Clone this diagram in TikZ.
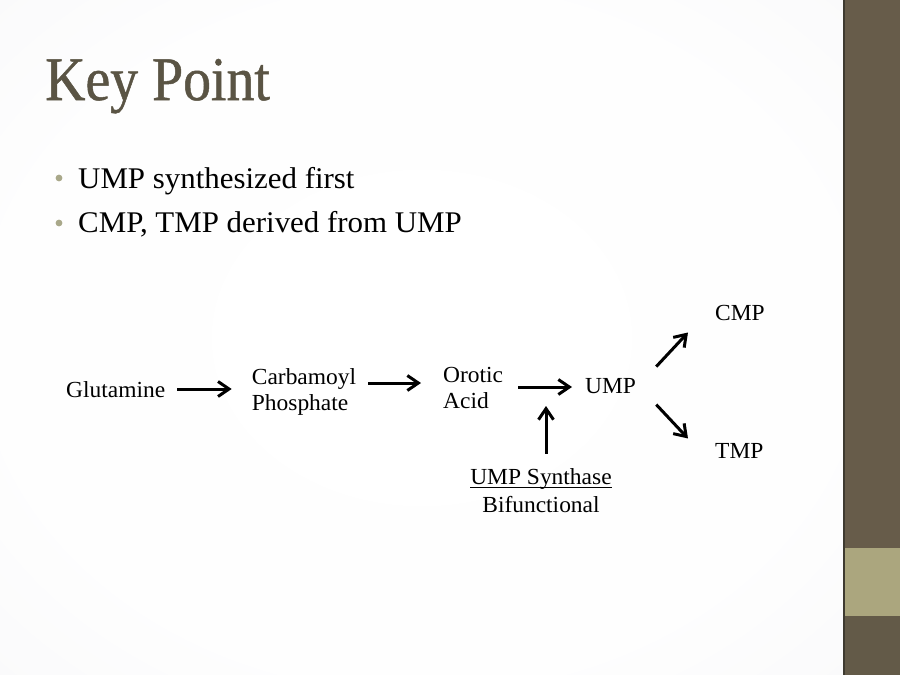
\documentclass[tikz,border=0pt]{standalone}
\usepackage{fontspec}
\setmainfont{Liberation Serif}
\newfontfamily\titlefont[FakeStretch=0.9,FakeBold=0.8]{Liberation Serif}
\newfontfamily\bodyfont[FakeStretch=1.03]{Liberation Serif}
\newfontfamily\diagfont[FakeStretch=1.02]{Liberation Serif}
\newcommand\myunderline[1]{\setbox0\hbox{#1}\rlap{\rule[-3.5pt]{\wd0}{0.9pt}}\box0}
\usetikzlibrary{arrows.meta}
\definecolor{titlecol}{HTML}{5A5444}
\definecolor{bulletcol}{HTML}{A9A88A}
\definecolor{barcol}{HTML}{675C4A}
\definecolor{barlow}{HTML}{635A48}
\definecolor{lightbar}{HTML}{ABA67E}
\definecolor{barline}{HTML}{3E3A30}
\definecolor{bgA}{HTML}{FEFEFE}
\definecolor{bgB}{HTML}{FAFAFB}
\definecolor{bgC}{HTML}{F1F1F3}
\definecolor{bgD}{HTML}{E6E6E8}
\definecolor{bgE}{HTML}{DEDFE1}
\pgfdeclareradialshading{bgshade}{\pgfpoint{0bp}{0bp}}{color(0bp)=(white); color(25bp)=(bgA); color(36bp)=(bgB); color(46bp)=(bgC); color(56bp)=(bgD); color(68bp)=(bgE); color(100bp)=(bgE)}
\begin{document}
\begin{tikzpicture}[x=1pt,y=-1pt,
  flow/.style={-{Straight Barb[length=11pt,width=15pt,line width=3pt]}, line width=3pt},
  lbl/.style={inner sep=0pt, font=\diagfont\fontsize{23}{26}\selectfont},
  bul/.style={inner sep=0pt, anchor=base west, font=\bodyfont\fontsize{30}{36}\selectfont}]
\useasboundingbox (0,0) rectangle (900,675);
% background
\shade[shading=bgshade] (0,0) rectangle (843,675);
\fill[barcol] (843,0) rectangle (900,675);
\fill[barlow] (843,616) rectangle (900,675);
\fill[lightbar] (845,548) rectangle (900,616);
\draw[barline, line width=1.5pt] (844,0) -- (844,675);
% title
\node[inner sep=0pt, anchor=base west, text=titlecol, font=\titlefont\fontsize{62}{70}\selectfont] (title) at (45,100) {Key Point};
% bullets
\fill[bulletcol] (59,178) circle (3.4);
\fill[bulletcol] (59,223) circle (3.4);
\node[bul] (b1) at (78,188) {UMP synthesized first};
\node[bul] (b2) at (78,232) {CMP, TMP derived from UMP};
% diagram
\node[lbl, anchor=base west] (glu) at (66,397) {Glutamine};
\node[lbl, anchor=center, align=left] (carb) at (304,392) {Carbamoyl\\Phosphate};
\node[lbl, anchor=west, align=left] (oro) at (443,388) {Orotic\\Acid};
\node[lbl, anchor=base west] (ump) at (585,393) {UMP};
\node[lbl, anchor=base west] (cmp) at (715,320) {CMP};
\node[lbl, anchor=base west] (tmp) at (715,458) {TMP};
\node[lbl, anchor=center, align=center, font=\diagfont\fontsize{23}{28}\selectfont] (syn) at (541,491) {\myunderline{UMP Synthase}\\Bifunctional};
\coordinate (enz) at (546,406);
\draw[flow] ([shift={(12,0)}]glu.east |- 0,389) -- ([shift={(-20,0)}]carb.west |- 0,389);
\draw[flow] ([shift={(12,0)}]carb.east |- 0,383) -- ([shift={(-22,0)}]oro.west |- 0,383);
\draw[flow] ([shift={(15,0)}]oro.east |- 0,387) -- ([shift={(-13,0)}]ump.west |- 0,387);
\draw[flow] (syn.north -| enz) ++(0,-15) -- (enz);
\draw[flow] ([shift={(20,-19)}]ump.east) -- ([shift={(-27,20)}]cmp.west);
\draw[flow] ([shift={(20,19)}]ump.east) -- ([shift={(-27,-12)}]tmp.west);
\end{tikzpicture}
\end{document}
